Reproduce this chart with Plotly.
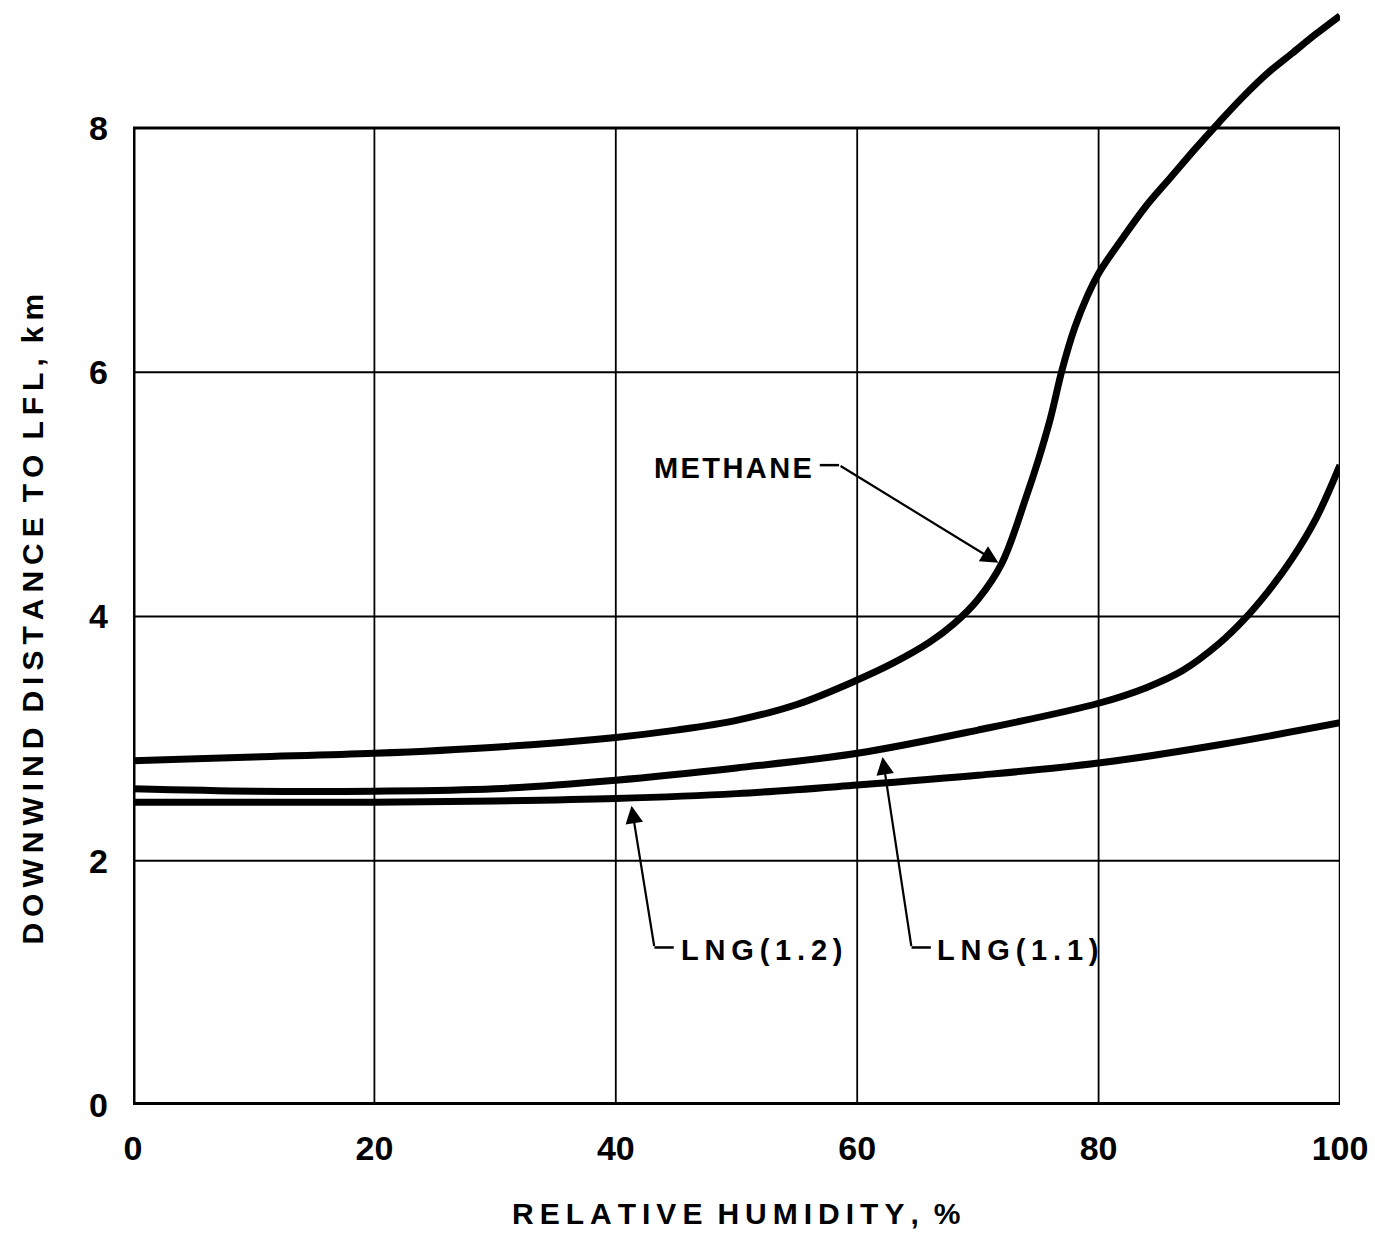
import plotly.graph_objects as go

# ---- data ----
methane_x = [0, 10, 20, 30, 40, 45, 50, 55, 60, 63, 66, 68, 70, 72, 74, 75, 76, 77, 78, 79, 80, 82, 84, 86, 88, 90, 92, 94, 96, 98, 100]
methane_y = [2.82, 2.85, 2.88, 2.93, 3.01, 3.07, 3.15, 3.28, 3.48, 3.62, 3.79, 3.94, 4.14, 4.44, 4.98, 5.28, 5.62, 6.03, 6.36, 6.61, 6.81, 7.10, 7.37, 7.60, 7.83, 8.05, 8.26, 8.45, 8.61, 8.77, 8.92]

lng11_x = [0, 10, 20, 30, 40, 50, 60, 70, 80, 84, 87, 90, 92, 94, 96, 98, 100]
lng11_y = [2.59, 2.57, 2.57, 2.59, 2.66, 2.76, 2.88, 3.07, 3.29, 3.42, 3.56, 3.78, 3.97, 4.2, 4.47, 4.8, 5.24]

lng12_x = [0, 10, 20, 30, 40, 50, 60, 70, 80, 90, 100]
lng12_y = [2.48, 2.48, 2.48, 2.49, 2.51, 2.55, 2.62, 2.70, 2.80, 2.95, 3.13]

x_ticks = [0, 20, 40, 60, 80, 100]
y_ticks = [0, 2, 4, 6, 8]
x_grid = [20, 40, 60, 80]
y_grid = [2, 4, 6]

FONT = "Liberation Sans, Arial, sans-serif"
THIN = "\u2009"
HAIR = "\u200a"
EN = "\u2002"


def spaced(s, gap=THIN, word=EN):
    return word.join(gap.join(list(w)) for w in s.split(" "))


fig = go.Figure()
for xs, ys in [(methane_x, methane_y), (lng11_x, lng11_y), (lng12_x, lng12_y)]:
    fig.add_trace(go.Scatter(x=xs, y=ys, mode="lines",
                             line=dict(color="black", width=7, shape="spline", smoothing=1.0),
                             showlegend=False, hoverinfo="skip"))

shapes = []
for gx in x_grid:
    shapes.append(dict(type="line", xref="x", yref="y", x0=gx, x1=gx, y0=0, y1=8,
                       line=dict(color="black", width=1.8), layer="below"))
for gy in y_grid:
    shapes.append(dict(type="line", xref="x", yref="y", x0=0, x1=100, y0=gy, y1=gy,
                       line=dict(color="black", width=2), layer="below"))
# frame
shapes.append(dict(type="line", xref="x", yref="y", x0=0, x1=100, y0=8, y1=8, line=dict(color="black", width=3)))
shapes.append(dict(type="line", xref="x", yref="y", x0=100, x1=100, y0=0, y1=8, line=dict(color="black", width=2.5)))
shapes.append(dict(type="line", xref="x", yref="y", x0=0, x1=0, y0=0, y1=8, line=dict(color="black", width=5)))
shapes.append(dict(type="line", xref="x", yref="y", x0=0, x1=100, y0=0, y1=0, line=dict(color="black", width=6)))
# leader stubs
shapes.append(dict(type="line", xref="x", yref="y", x0=56.9, x1=58.5, y0=5.24, y1=5.24, line=dict(color="black", width=2.5)))
shapes.append(dict(type="line", xref="x", yref="y", x0=43.2, x1=44.8, y0=1.29, y1=1.29, line=dict(color="black", width=2.5)))
shapes.append(dict(type="line", xref="x", yref="y", x0=64.5, x1=66.1, y0=1.29, y1=1.29, line=dict(color="black", width=2.5)))

label_font = dict(family=FONT, size=29, color="black", weight="bold")
title_font = dict(family=FONT, size=30, color="black", weight="bold")
annotations = [
    dict(x=49.7, y=5.22, xref="x", yref="y", text=spaced("METHANE", gap=HAIR), showarrow=False, font=label_font),
    dict(x=52.1, y=1.27, xref="x", yref="y", text=spaced("LNG(1.2)"), showarrow=False, font=label_font),
    dict(x=73.3, y=1.27, xref="x", yref="y", text=spaced("LNG(1.1)"), showarrow=False, font=label_font),
    # arrows
    dict(x=71.7, y=4.44, ax=58.5, ay=5.24, xref="x", yref="y", axref="x", ayref="y", text="",
         showarrow=True, arrowhead=2, arrowsize=1.6, arrowwidth=2.2, arrowcolor="black"),
    dict(x=41.3, y=2.45, ax=43.2, ay=1.29, xref="x", yref="y", axref="x", ayref="y", text="",
         showarrow=True, arrowhead=2, arrowsize=1.6, arrowwidth=2.2, arrowcolor="black"),
    dict(x=62.1, y=2.85, ax=64.5, ay=1.29, xref="x", yref="y", axref="x", ayref="y", text="",
         showarrow=True, arrowhead=2, arrowsize=1.6, arrowwidth=2.2, arrowcolor="black"),
    # axis titles
    dict(x=0.4995, y=-0.099, xref="paper", yref="paper", text=spaced("RELATIVE HUMIDITY, %"),
         showarrow=False, font=title_font, yanchor="middle"),
    dict(x=-0.084, y=3.98, xref="paper", yref="y", text=spaced("DOWNWIND DISTANCE TO LFL, km"), textangle=-90,
         showarrow=False, font=title_font, xanchor="center"),
]

fig.update_layout(
    width=1375, height=1244,
    margin=dict(l=133, r=35, t=6, b=139),
    paper_bgcolor="white", plot_bgcolor="white",
    shapes=shapes, annotations=annotations,
    xaxis=dict(range=[0, 100], tickvals=x_ticks, ticktext=[str(v) for v in x_ticks],
               showgrid=False, zeroline=False, showline=False, ticks="",
               ticklabelstandoff=20,
               tickfont=dict(family=FONT, size=34, color="black", weight="bold")),
    yaxis=dict(range=[0, 9.0], tickvals=y_ticks, ticktext=[str(v) for v in y_ticks],
               showgrid=False, zeroline=False, showline=False, ticks="",
               ticklabelstandoff=24,
               tickfont=dict(family=FONT, size=34, color="black", weight="bold")),
)

fig.write_html("out.html")
